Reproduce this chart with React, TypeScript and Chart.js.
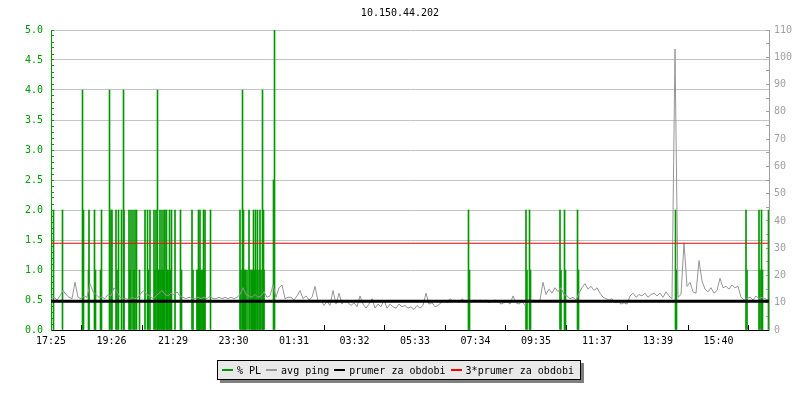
import { useEffect, useRef } from 'react';
import { Chart, registerables } from 'chart.js';

Chart.register(...registerables);

const chartTitle = '10.150.44.202';

// x axis: minutes from 17:25
const xMaxMinutes = 1436;
const xTickMinutes = [0, 121, 244, 365, 486, 607, 728, 849, 970, 1092, 1214, 1335];
const xTickLabels = ['17:25', '19:26', '21:29', '23:30', '01:31', '03:32', '05:33', '07:34', '09:35', '11:37', '13:39', '15:40'];

// avg ping (ms), one sample every 6 minutes
const pingStepMinutes = 6;
const pingValues = [
  11.5, 12, 11, 12.5, 14.5, 13, 12, 11.5, 17.5, 12, 11.5, 12.5, 12, 17, 14, 13, 12,
  12, 11.5, 13, 12.5, 15.5, 14, 12, 11.5, 11.5, 11,
  12, 11.5, 12, 13.5, 14.5, 13, 12.5, 11.5, 12.5, 13.5, 14.5, 13, 12.5,
  13.5, 13, 14, 12.5, 12, 11.5, 12, 11.5, 11.5, 12,
  11.5, 12, 11.5, 12.5, 11.5, 11.5, 12, 11.5, 12, 11.5,
  12, 11.5, 12, 13, 15.5, 13, 12.5, 12, 13, 12, 12.5, 14, 12, 12.5, 16.5, 12, 15.5, 16.5, 11.5, 12,
  12, 11, 12.5, 14.5, 11.5, 12.5, 11, 12, 16, 10.5, 11, 9, 10.5, 9, 14.5, 9.5, 13.5, 9.5, 11, 10,
  9, 10, 8.5, 12.5, 9.5, 8, 9.5, 11.5, 8, 9.5, 8.5, 11, 8, 9.5, 8.5, 8, 9.5, 8.5, 9, 8,
  8.5, 7.5, 9, 8, 9, 13.5, 9.5, 10, 8.5, 9, 10, 11, 10, 11.5, 10.5, 11, 10, 11.5, 10.5, 10,
  10.5, 11, 10.5, 11, 10.5, 11, 10, 10.5, 11, 10.5, 9.5, 10, 10.5, 9.5, 12.5, 10, 9.5, 10.5, 9, 11,
  10.5, 11, 10.5, 11, 17.5, 13, 15, 13.5, 15.5, 14, 15.5, 13, 12.5, 11.5, 12, 11, 13.5, 15.5, 17, 15,
  16, 14.5, 15.5, 13.5, 12, 11.5, 11, 11.5, 10, 10.5, 9.5, 10, 9.5, 12.5, 13.5, 12, 13, 12.5, 13.5, 12,
  13, 13.5, 12.5, 13.5, 12, 14, 12.5, 11.5,
  103, 12, 13, 32, 16, 17.5, 14, 13.5, 25.5, 18, 15, 14, 15.5, 13.5, 14.5, 19,
  15.5, 16, 15, 16.5, 15.5, 16, 12, 11, 11.5, 12, 11, 12.5, 11.5, 12, 11.5, 11,
];

// packet loss (%) events
const plMinutes = [
  5, 23, 63, 65, 75, 76, 87, 89, 99, 101, 117, 120, 122, 130, 132, 135, 141, 145, 146,
  156, 158, 160, 164, 166, 168, 171, 177, 188, 193, 195, 198, 206, 208, 210, 213, 214,
  216, 218, 220, 222, 224, 225, 226, 228, 231, 232, 233, 236, 237,
  239, 241, 248, 259, 261, 282, 284, 292, 293, 295, 296, 297, 298, 300, 302, 304, 305, 307, 308, 319,
  378, 380, 383, 385, 387, 389, 392, 396, 398, 401, 403, 405, 407, 409, 412, 413, 416, 418, 420, 423, 425, 426, 445, 447,
  835, 837, 950, 952, 957, 959, 1018, 1020, 1027, 1029, 1053, 1055, 1249, 1251,
  1390, 1392, 1416, 1418, 1421, 1423, 1435,
];
const plValues = [
  2, 2, 4, 2, 1, 2, 2, 1, 1, 2, 4, 2, 2, 2, 1, 2, 2, 4, 2,
  2, 1, 2, 2, 1, 2, 2, 1, 2, 2, 1, 2, 2, 1, 2, 4, 1,
  1, 2, 1, 2, 1, 1, 2, 2, 2, 1, 1, 1, 2,
  1, 2, 2, 2, 1, 2, 1, 1, 1, 2, 1, 1, 2, 1, 1, 1, 2, 1, 2, 2,
  2, 1, 4, 2, 1, 1, 1, 2, 1, 1, 1, 2, 1, 2, 1, 2, 1, 2, 1, 4, 2, 1, 2.5, 5,
  2, 1, 2, 1, 2, 1, 2, 1, 2, 1, 2, 1, 2, 1,
  2, 1, 2, 1, 2, 1, 2,
];

const avgPing = 10.5;
const avgPing3 = 31.8;

const legendLabels = ['% PL', 'avg ping', 'prumer za obdobi', '3*prumer za obdobi'];
const legendColors = ['#009900', '#999999', '#000000', '#ff0000'];

const FONT = '"DejaVu Sans Mono", monospace';
const GREEN = '#009900';
const GREY = '#959595';
const RGREY = '#a0a0a0';

const isHalfStep = (v: number) => Math.abs(v * 2 - Math.round(v * 2)) < 1e-6;

export default function App() {
  const ref = useRef<HTMLCanvasElement>(null);

  useEffect(() => {
    const chart = new Chart(ref.current as HTMLCanvasElement, {
      type: 'bar',
      data: {
        datasets: [
          {
            type: 'line',
            label: legendLabels[3],
            data: [{ x: 0, y: avgPing3 }, { x: xMaxMinutes, y: avgPing3 }],
            yAxisID: 'yR',
            borderColor: '#ff0000',
            borderWidth: 1,
            pointRadius: 0,
            order: 0,
          },
          {
            type: 'line',
            label: legendLabels[2],
            data: [{ x: 0, y: avgPing }, { x: xMaxMinutes, y: avgPing }],
            yAxisID: 'yR',
            borderColor: '#000000',
            borderWidth: 3,
            pointRadius: 0,
            order: 1,
          },
          {
            type: 'line',
            label: legendLabels[1],
            data: pingValues.map((v, i) => ({ x: i * pingStepMinutes, y: v })),
            yAxisID: 'yR',
            borderColor: GREY,
            borderWidth: 1,
            pointRadius: 0,
            tension: 0,
            order: 2,
          },
          {
            type: 'bar',
            label: legendLabels[0],
            data: plMinutes.map((m, i) => ({ x: m, y: plValues[i] })),
            yAxisID: 'yL',
            backgroundColor: GREEN,
            borderWidth: 0,
            barThickness: 1,
            order: 3,
          },
        ] as any,
      },
      options: {
        responsive: false,
        animation: false,
        devicePixelRatio: 1,
        layout: { padding: 0 },
        plugins: {
          legend: { display: false },
          tooltip: { enabled: false },
          title: {
            display: true,
            text: chartTitle,
            color: '#000',
            font: { family: FONT, size: 10, weight: 'normal' },
            padding: { top: 7, bottom: 11 },
          },
        },
        scales: {
          x: {
            type: 'linear',
            min: 0,
            max: xMaxMinutes,
            offset: false,
            position: 'bottom',
            afterBuildTicks: (s: any) => {
              s.ticks = xTickMinutes.map((v) => ({ value: v }));
            },
            afterFit: (s: any) => {
              s.height = 70;
            },
            ticks: {
              autoSkip: false,
              maxRotation: 0,
              color: '#000',
              font: { family: FONT, size: 10 },
              padding: 10,
              callback: (v: any) => {
                const i = xTickMinutes.indexOf(Number(v));
                return i >= 0 ? xTickLabels[i] : '';
              },
            },
            grid: { drawOnChartArea: false, tickColor: '#000', tickLength: -5 },
            border: { color: '#000', width: 1 },
          },
          yL: {
            type: 'linear',
            position: 'left',
            min: 0,
            max: 5,
            afterFit: (s: any) => {
              s.width = 51;
            },
            ticks: {
              stepSize: 0.1,
              autoSkip: false,
              color: GREEN,
              font: { family: FONT, size: 10 },
              padding: 11,
              callback: (v: any) => (isHalfStep(Number(v)) ? Number(v).toFixed(1) : ''),
            },
            grid: {
              color: (ctx: any) =>
                ctx.tick && isHalfStep(ctx.tick.value) && ctx.tick.value > 0.01 ? '#c4c4c4' : 'rgba(0,0,0,0)',
              tickColor: GREEN,
              tickLength: -3,
            },
            border: { color: GREEN, width: 1 },
          },
          yR: {
            type: 'linear',
            position: 'right',
            min: 0,
            max: 110,
            afterFit: (s: any) => {
              s.width = 31;
            },
            ticks: {
              stepSize: 5,
              autoSkip: false,
              color: RGREY,
              font: { family: FONT, size: 10 },
              padding: 8,
              callback: (v: any) => (Number(v) % 10 === 0 ? String(v) : ''),
            },
            grid: { drawOnChartArea: false, tickColor: RGREY, tickLength: -3 },
            border: { color: RGREY, width: 1 },
          },
        },
      } as any,
    });
    return () => chart.destroy();
  }, []);

  return (
    <div style={{ position: 'fixed', left: 0, top: 0, width: 800, height: 400, background: '#fff' }}>
      <canvas ref={ref} width={800} height={400} style={{ display: 'block' }} />
      <div
        style={{
          position: 'absolute',
          left: 217,
          top: 360,
          width: 364,
          height: 20,
          boxSizing: 'border-box',
          border: '1px solid #000',
          background: '#e9e9e9',
          boxShadow: '3px 3px 0 #808080',
          display: 'flex',
          alignItems: 'center',
          paddingLeft: 4,
          font: `10px ${FONT}`,
          color: '#000',
          whiteSpace: 'nowrap',
        }}
      >
        {legendLabels.map((lab, i) => (
          <span key={lab} style={{ display: 'inline-flex', alignItems: 'center', marginRight: 5 }}>
            <span style={{ display: 'inline-block', width: 11, height: 2, background: legendColors[i], marginRight: 4 }} />
            <span>{lab}</span>
          </span>
        ))}
      </div>
    </div>
  );
}
